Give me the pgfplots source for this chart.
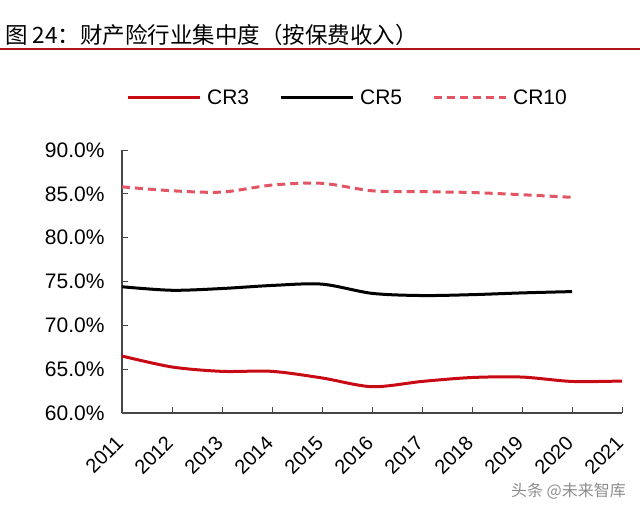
\documentclass[border=0pt]{standalone}
\usepackage{pgfplots}
\pgfplotsset{compat=1.18}
\usepackage{fontspec}
\setmainfont{Liberation Sans}
\newfontfamily\cjk{Noto Sans CJK SC}
\definecolor{crthree}{RGB}{200,10,20}
\definecolor{crten}{RGB}{225,85,100}
\definecolor{axgray}{RGB}{70,70,70}
\definecolor{titlered}{RGB}{175,20,25}
\begin{document}
\begin{tikzpicture}
\path[use as bounding box] (0pt,0pt) rectangle (640pt,-507pt);
\node[anchor=base west, inner sep=0pt, font=\cjk\fontsize{22.5}{26}\selectfont] at (5pt,-43pt) {图 24：财产险行业集中度（按保费收入）};
\draw[titlered, line width=1.5pt] (0pt,-49pt) -- (640pt,-49pt);
\begin{axis}[
  at={(122pt,-413pt)}, anchor=south west,
  scale only axis, width=500pt, height=263pt,
  xmin=2011, xmax=2021, ymin=60, ymax=90,
  axis x line*=bottom, axis y line*=left,
  axis line style={axgray, line width=1.2pt},
  tick align=inside, major tick length=6pt,
  tick style={axgray, line width=1pt},
  xtick={2011,2012,2013,2014,2015,2016,2017,2018,2019,2020,2021},
  xticklabels={2011,2012,2013,2014,2015,2016,2017,2018,2019,2020,2021},
  xticklabel style={font=\fontsize{20}{24}\selectfont, anchor=east, yshift=-24pt, xshift=0pt, rotate=45},
  ytick={60,65,70,75,80,85,90},
  yticklabels={60.0\%,65.0\%,70.0\%,75.0\%,80.0\%,85.0\%,90.0\%},
  yticklabel style={font=\fontsize{21}{25}\selectfont, xshift=-14pt},
  legend columns=3,
  legend style={at={(axis description cs:0.451,1.198)}, anchor=center, draw=none, fill=none,
    font=\fontsize{21}{25}\selectfont,
    /tikz/every even column/.append style={column sep=28pt}},
  legend image code/.code={\draw[#1] (0pt,0pt) -- (72pt,0pt); \path (76pt,0pt);},
  clip=false,
]
\addplot[crthree, line width=3pt, smooth, tension=0.5] coordinates {
(2011,66.5) (2012,65.25) (2013,64.75) (2014,64.75) (2015,64.0) (2016,63.0) (2017,63.6) (2018,64.05) (2019,64.1) (2020,63.6) (2021,63.65)};
\addlegendentry{CR3}
\addplot[black, line width=3pt, smooth, tension=0.5] coordinates {
(2011,74.4) (2012,74.0) (2013,74.2) (2014,74.55) (2015,74.7) (2016,73.65) (2017,73.4) (2018,73.5) (2019,73.7) (2020,73.85)};
\addlegendentry{CR5}
\addplot[crten, line width=3pt, smooth, tension=0.5, dash pattern=on 8pt off 5pt] coordinates {
(2011,85.8) (2012,85.35) (2013,85.2) (2014,86.0) (2015,86.2) (2016,85.35) (2017,85.25) (2018,85.15) (2019,84.9) (2020,84.6)};
\addlegendentry{CR10}
\end{axis}
\node[anchor=base east, inner sep=0pt, text=black!45, font=\cjk\fontsize{16}{19}\selectfont] at (626pt,-496pt) {头条 @未来智库};
\end{tikzpicture}
\end{document}
